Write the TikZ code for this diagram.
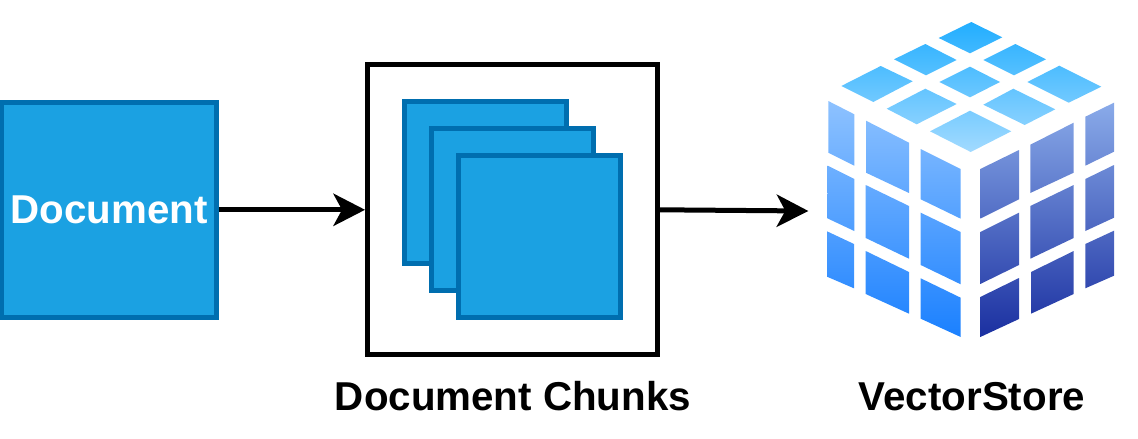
\documentclass[tikz,border=0pt]{standalone}
\usepackage{fontspec}
\setmainfont{Liberation Sans}
\usetikzlibrary{positioning, arrows.meta}

\definecolor{docfill}{HTML}{1BA1E2}
\definecolor{docline}{HTML}{006EAF}

\begin{document}
\begin{tikzpicture}[
        x=1pt, y=-1pt,
        every node/.style = {inner sep=0pt},
        docbox/.style = {shape=rectangle, draw=docline, fill=docfill,
                         line width=5pt, minimum size=162pt},
        framebox/.style = {shape=rectangle, draw=black, fill=white,
                           line width=5pt, minimum size=290pt},
        biglabel/.style = {font=\fontsize{40.3}{48}\selectfont\bfseries},
        flow/.style = {line width=5pt,
                       -{Stealth[length=32pt, width=33pt, inset=9pt, line width=0pt]}},
        topface/.style = {top color=top1, bottom color=top2},
        leftface/.style = {top color=left1, bottom color=left2},
        rightface/.style = {top color=right1, bottom color=right2}]
    \definecolor{top1}{HTML}{22AEFF}
    \definecolor{top2}{HTML}{A2DAFF}
    \definecolor{left1}{HTML}{8EC2FF}
    \definecolor{left2}{HTML}{1A80FF}
    \definecolor{right1}{HTML}{8BACEA}
    \definecolor{right2}{HTML}{1A2FA0}
    \useasboundingbox (0,0) rectangle (1138,439);

    \node[docbox, minimum size=215.5pt, text=white, biglabel] (doc) at (109,209.8) {Document};

    \node[framebox] (chunks) at (512.5,209.8) {};
    \node[docbox] (sheet1) at (485.5,182.8) {};
    \node[docbox, below right=-140pt and -140pt of sheet1] (sheet2) {};
    \node[docbox, below right=-140pt and -140pt of sheet2] (sheet3) {};
    \node[biglabel, anchor=base] (chunkslabel) at (513,410) {Document Chunks};

    \coordinate (store) at (808.3,211);
    \node[biglabel, anchor=base] (storelabel) at (972,410) {VectorStore};

    \draw [flow] (doc) -- (doc -| chunks.west);
    \draw [flow] (chunks.east |- doc) -- (store);

    % cube, top
    \begin{scope}
        \clip (971.3,22) -- (1002.3,37.3) -- (970,53.3) -- (938.7,38) -- cycle
              (925.3,44) -- (956.7,60) -- (926,75.3) -- (894,59.3) -- cycle
              (1015.3,44) -- (1046,59.3) -- (1014,75.3) -- (983.3,60) -- cycle
              (880.7,66) -- (912.7,81.3) -- (873.3,102) -- (841.3,86) -- cycle
              (970,66.7) -- (1000,82) -- (970,97.3) -- (939.3,82) -- cycle
              (1059.3,65.7) -- (1101.3,86.7) -- (1068.7,102.7) -- (1027.3,82) -- cycle
              (925.3,88.7) -- (956.7,104) -- (916.7,124.3) -- (886.7,108.7) -- cycle
              (1013.3,88.7) -- (1055.3,109.3) -- (1024.7,125) -- (983.3,104.7) -- cycle
              (970,110.7) -- (1011.3,131.3) -- (970.7,152) -- (930,131.3) -- cycle;
        \shade[topface] (835,22) rectangle (1105,152);
    \end{scope}

    % cube, left side
    \begin{scope}
        \clip (828.3,101) -- (854.3,114.3) -- (854.3,165.7) -- (828.3,152.7) -- cycle
              (827.7,165.7) -- (854.3,179) -- (854.3,231) -- (827.3,218.3) -- cycle
              (827,231.3) -- (854,244) -- (854,288.3) -- (827,276.7) -- cycle
              (866,120.7) -- (909,142.7) -- (909,193) -- (866,172.7) -- cycle
              (865.7,185) -- (909,206) -- (909,258.7) -- (865.7,238) -- cycle
              (865.7,251) -- (909,272) -- (909,313.7) -- (865.7,294) -- cycle
              (920.7,149) -- (960.7,169) -- (960.7,218.7) -- (920.7,199.3) -- cycle
              (920.7,212.7) -- (960.7,232) -- (960.7,284.3) -- (920.7,265) -- cycle
              (920.7,278.3) -- (960.7,297.7) -- (960.7,337) -- (920.7,318.7) -- cycle;
        \shade[leftface] (825,100) rectangle (962,338);
    \end{scope}

    % cube, right side
    \begin{scope}
        \clip (980.3,169) -- (1019,150) -- (1019,199.3) -- (980.3,218.7) -- cycle
              (980.3,232) -- (1019,212.7) -- (1019,265) -- (980.3,284) -- cycle
              (980.3,297) -- (1019,278) -- (1019,319) -- (980.3,337) -- cycle
              (1030.3,144.7) -- (1073.7,122.7) -- (1073.7,172.7) -- (1030.3,193) -- cycle
              (1030.3,206) -- (1073.7,185) -- (1073.7,238) -- (1030.3,258.7) -- cycle
              (1031,272) -- (1073.7,251) -- (1073.7,294) -- (1031,313.7) -- cycle
              (1085.3,116.7) -- (1114,102.7) -- (1114,151.7) -- (1085.3,165.7) -- cycle
              (1085.3,179) -- (1114,165) -- (1114,217.7) -- (1085.3,231) -- cycle
              (1085.3,244) -- (1114,230.7) -- (1114,275.7) -- (1085.3,288.3) -- cycle;
        \shade[rightface] (978,100) rectangle (1116,338);
    \end{scope}
\end{tikzpicture}
\end{document}
